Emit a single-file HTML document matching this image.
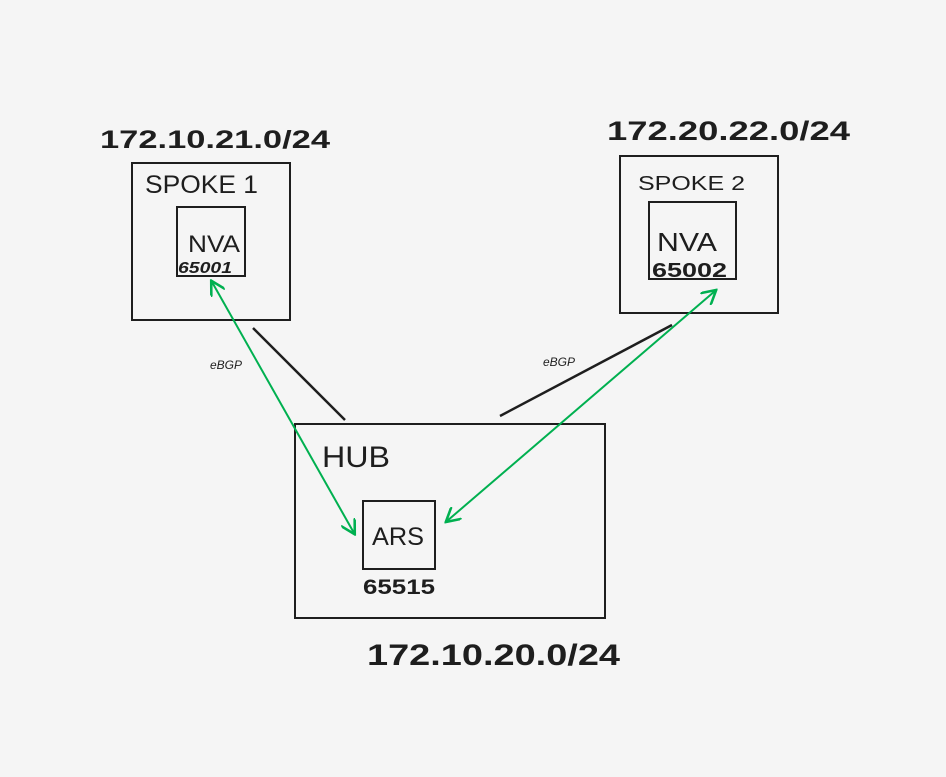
<!DOCTYPE html>
<html><head><meta charset="utf-8">
<style>
html,body{margin:0;padding:0;background:#f5f5f5;}
svg{display:block;}
text{font-family:"Liberation Sans",sans-serif;fill:#1e1e1e;}
</style></head>
<body>
<svg width="946" height="777" viewBox="0 0 946 777">
<defs>
<marker id="ah" viewBox="0 0 10 10" refX="8" refY="5" markerWidth="8" markerHeight="8" orient="auto-start-reverse">
<path d="M0,0 L9,5 L0,10" fill="none" stroke="#00b050" stroke-width="1.6"/>
</marker>
</defs>
<rect width="946" height="777" fill="#f5f5f5"/>

<g>
<rect x="132" y="163" width="158" height="157" fill="none" stroke="#1e1e1e" stroke-width="2"/>
<text x="145" y="193" font-size="25" textLength="113" lengthAdjust="spacingAndGlyphs">SPOKE 1</text>
<rect x="177" y="207" width="68" height="69" fill="none" stroke="#1e1e1e" stroke-width="2"/>
<text x="188" y="252" font-size="24" textLength="52" lengthAdjust="spacingAndGlyphs">NVA</text>
<text x="178" y="273" font-size="16" font-style="italic" font-weight="bold" textLength="54" lengthAdjust="spacingAndGlyphs">65001</text>
<text x="100" y="148" font-size="25" font-weight="bold" textLength="230" lengthAdjust="spacingAndGlyphs">172.10.21.0/24</text>
</g>

<g>
<rect x="620" y="156" width="158" height="157" fill="none" stroke="#1e1e1e" stroke-width="2"/>
<text x="638" y="190" font-size="20" textLength="107" lengthAdjust="spacingAndGlyphs">SPOKE 2</text>
<rect x="649" y="202" width="87" height="77" fill="none" stroke="#1e1e1e" stroke-width="2"/>
<text x="657" y="251" font-size="26" textLength="60" lengthAdjust="spacingAndGlyphs">NVA</text>
<text x="652" y="277" font-size="20" font-weight="bold" textLength="75" lengthAdjust="spacingAndGlyphs">65002</text>
<text x="607" y="140" font-size="27" font-weight="bold" textLength="243" lengthAdjust="spacingAndGlyphs">172.20.22.0/24</text>
</g>

<g>
<rect x="295" y="424" width="310" height="194" fill="none" stroke="#1e1e1e" stroke-width="2"/>
<text x="322" y="467" font-size="30" textLength="68" lengthAdjust="spacingAndGlyphs">HUB</text>
<rect x="363" y="501" width="72" height="68" fill="none" stroke="#1e1e1e" stroke-width="2"/>
<text x="372" y="545" font-size="25" textLength="52" lengthAdjust="spacingAndGlyphs">ARS</text>
<text x="363" y="594" font-size="21" font-weight="bold" textLength="72" lengthAdjust="spacingAndGlyphs">65515</text>
<text x="367" y="665" font-size="30" font-weight="bold" textLength="253" lengthAdjust="spacingAndGlyphs">172.10.20.0/24</text>
</g>

<line x1="253" y1="328" x2="345" y2="420" stroke="#1e1e1e" stroke-width="2.5"/>
<line x1="500" y1="416" x2="672" y2="325" stroke="#1e1e1e" stroke-width="2.5"/>

<line x1="212" y1="282" x2="354" y2="533" stroke="#00b050" stroke-width="2" marker-start="url(#ah)" marker-end="url(#ah)"/>
<line x1="715" y1="291" x2="447" y2="521" stroke="#00b050" stroke-width="2" marker-start="url(#ah)" marker-end="url(#ah)"/>

<text x="210" y="369" font-size="12" font-style="italic">eBGP</text>
<text x="543" y="366" font-size="12" font-style="italic">eBGP</text>
</svg>
</body></html>
